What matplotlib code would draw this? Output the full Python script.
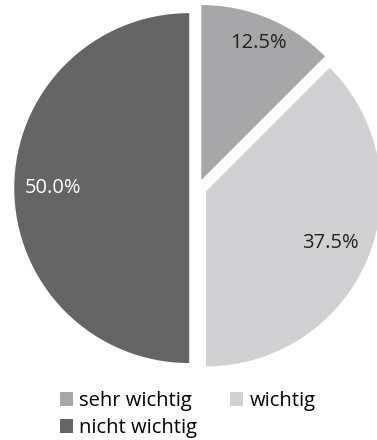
import numpy as np
import matplotlib.pyplot as plt
from matplotlib.patches import Patch

plt.rcParams["font.family"] = ["Open Sans", "DejaVu Sans"]

categories = ["sehr wichtig", "wichtig", "nicht wichtig"]
shares = [12.5, 37.5, 50.0]
colors = ["#a7a7a9", "#d1d1d3", "#656565"]
text_colors = ["#222222", "#222222", "#ffffff"]
# distance of each value label from its wedge centre (pie radius = 1)
label_dist = [0.85, 0.77, 0.78]

fig = plt.figure(figsize=(3.77, 4.40), dpi=100)
ax = fig.add_axes([0.0146, 0.135, 1.021, 0.875])

wedges, _, autotexts = ax.pie(
    shares,
    colors=colors,
    startangle=90,
    counterclock=False,
    explode=[0.05] * len(shares),
    radius=1.0,
    autopct="%.1f%%",
)
for w, t, dist, tc in zip(wedges, autotexts, label_dist, text_colors):
    ang = np.deg2rad((w.theta1 + w.theta2) / 2)
    cx, cy = w.center
    t.set_position((cx + dist * np.cos(ang), cy + dist * np.sin(ang)))
    t.set_fontsize(14.5)
    t.set_color(tc)

ax.set_xlim(-1.1, 1.1)
ax.set_ylim(-1.1, 1.1)
ax.axis("off")

# legend: two columns, filled column-wise
order = [0, 2, 1]
handles = [Patch(facecolor=colors[i], edgecolor="none") for i in order]
labels = [categories[i] for i in order]
fig.legend(
    handles,
    labels,
    ncol=2,
    loc="upper left",
    bbox_to_anchor=(0.159, 0.111),
    frameon=False,
    fontsize=14.5,
    handlelength=0.65,
    handleheight=0.65,
    handletextpad=0.3,
    columnspacing=1.65,
    labelspacing=0.35,
    borderaxespad=0,
    borderpad=0,
)

fig.savefig("out.png", dpi=100, facecolor="white")
